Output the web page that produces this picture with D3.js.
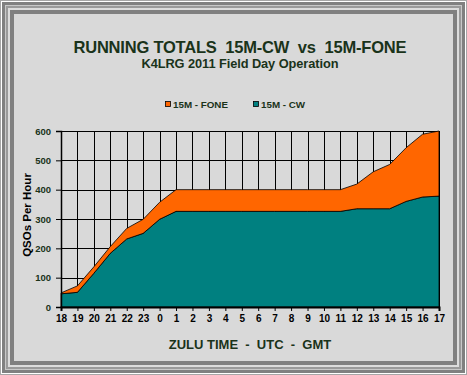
<!DOCTYPE html>
<html>
<head>
<meta charset="utf-8">
<script src="https://cdn.jsdelivr.net/npm/d3@7"></script>
<style>
  html, body { margin: 0; padding: 0; background: #d9d9d9; }
  svg { display: block; font-family: Arial, "Liberation Sans", sans-serif; }
</style>
</head>
<body>
<div id="chart"></div>
<script>
// hours (zulu) and cumulative QSO totals
var hours = ["18","19","20","21","22","23","0","1","2","3","4","5","6","7","8","9","10","11","12","13","14","15","16","17"];
var cwTotals   = [45, 50, 115, 183, 232, 251, 299, 326, 326, 326, 326, 326, 326, 326, 326, 326, 326, 326, 335, 335, 335, 360, 375, 378];
var foneTotals = [3, 22, 22, 23, 36, 48, 58, 74, 74, 74, 74, 74, 74, 74, 74, 74, 74, 74, 84, 126, 151, 183, 214, 222];
var yTicks = [0, 100, 200, 300, 400, 500, 600];

var W = 467, H = 375;
var plot = {left: 61, right: 439, top: 131, bottom: 307};
var textColor = "#1a331a";

var svg = d3.select("#chart").append("svg")
    .attr("width", W)
    .attr("height", H);

// frame
svg.append("rect").attr("width", W).attr("height", H).attr("fill", "#a6a6a6");
var frame = [
    {i: 1, c: "#ffffff"},
    {i: 2, c: "#808080"},
    {i: 5, c: "#c8c8c8"},
    {i: 6, c: "#9a9a9a"},
    {i: 8, c: "#dcdcdc"},
    {i: 10, c: "#808080"},
    {i: 14, c: "#d9d9d9"}
];
frame.forEach(function(f){
    svg.append("rect")
        .attr("x", f.i).attr("y", f.i)
        .attr("width", W - 2 * f.i).attr("height", H - 2 * f.i)
        .attr("fill", f.c);
});

// titles
svg.append("text")
    .attr("x", 240).attr("y", 53)
    .attr("text-anchor", "middle")
    .attr("font-size", 16.5).attr("font-weight", "bold")
    .attr("fill", textColor)
    .attr("textLength", 333)
    .style("white-space", "pre")
    .text("RUNNING TOTALS  15M-CW  vs  15M-FONE");

svg.append("text")
    .attr("x", 240).attr("y", 68)
    .attr("text-anchor", "middle")
    .attr("font-size", 12.8).attr("font-weight", "bold")
    .attr("fill", textColor)
    .attr("textLength", 197)
    .text("K4LRG 2011 Field Day Operation");

// legend
var legend = [
    {name: "15M - FONE", color: "#ff6600", x: 165},
    {name: "15M - CW", color: "#008080", x: 253}
];
legend.forEach(function(l){
    svg.append("rect")
        .attr("x", l.x + 0.5).attr("y", 101.5)
        .attr("width", 5).attr("height", 5)
        .attr("fill", l.color).attr("stroke", "#000").attr("stroke-width", 0.8);
    svg.append("text")
        .attr("x", l.x + 8).attr("y", 107.5)
        .attr("font-size", 9.8).attr("font-weight", "bold")
        .attr("fill", textColor)
        .text(l.name);
});

// scales
var x = d3.scalePoint()
    .domain(hours)
    .range([plot.left, plot.right]);

var y = d3.scaleLinear()
    .domain([0, 600])
    .range([plot.bottom, plot.top]);

// grid
var grid = svg.append("g").attr("stroke", "#000").attr("stroke-width", 1);
yTicks.forEach(function(t){
    grid.append("line")
        .attr("x1", plot.left).attr("x2", plot.right)
        .attr("y1", Math.round(y(t)) + 0.5).attr("y2", Math.round(y(t)) + 0.5);
});
hours.forEach(function(h){
    grid.append("line")
        .attr("x1", Math.round(x(h)) + 0.5).attr("x2", Math.round(x(h)) + 0.5)
        .attr("y1", plot.top).attr("y2", plot.bottom);
});

// stacked areas
var rows = hours.map(function(h, i){ return {hour: h, cw: cwTotals[i], fone: foneTotals[i]}; });
var stack = d3.stack().keys(["cw", "fone"]);
var series = stack(rows);
var colors = {cw: "#008080", fone: "#ff6600"};

var area = d3.area()
    .x(function(d){ return x(d.data.hour); })
    .y0(function(d){ return y(d[0]); })
    .y1(function(d){ return y(d[1]); });

svg.append("g").selectAll("path")
    .data(series)
    .enter()
    .append("path")
    .attr("d", area)
    .attr("fill", function(s){ return colors[s.key]; })
    .attr("stroke", "#000")
    .attr("stroke-width", 0.8)
    .attr("stroke-linejoin", "round");

// axes
var yAxis = svg.append("g")
    .attr("transform", "translate(" + plot.left + ",0)")
    .call(d3.axisLeft(y).tickValues(yTicks).tickSize(5).tickPadding(5));
yAxis.select(".domain").attr("stroke", "#000").attr("stroke-width", 1.5);
yAxis.selectAll("text")
    .attr("font-size", 9.5).attr("font-weight", "bold")
    .attr("font-family", "Arial, 'Liberation Sans', sans-serif")
    .attr("fill", textColor);

var xAxis = svg.append("g")
    .attr("transform", "translate(0," + plot.bottom + ")")
    .call(d3.axisBottom(x).tickSize(4).tickPadding(4));
xAxis.select(".domain").attr("stroke", "#000").attr("stroke-width", 2);
xAxis.selectAll("text")
    .attr("font-size", 10).attr("font-weight", "bold")
    .attr("font-family", "Arial, 'Liberation Sans', sans-serif")
    .attr("fill", "#000");

// axis titles
svg.append("text")
    .attr("transform", "translate(31,215) rotate(-90)")
    .attr("text-anchor", "middle")
    .attr("font-size", 11.5).attr("font-weight", "bold")
    .attr("fill", "#000")
    .text("QSOs Per Hour");

svg.append("text")
    .attr("x", 250).attr("y", 349)
    .attr("text-anchor", "middle")
    .attr("font-size", 13).attr("font-weight", "bold")
    .attr("fill", textColor)
    .style("white-space", "pre")
    .text("ZULU TIME  -  UTC  -  GMT");
</script>
</body>
</html>
